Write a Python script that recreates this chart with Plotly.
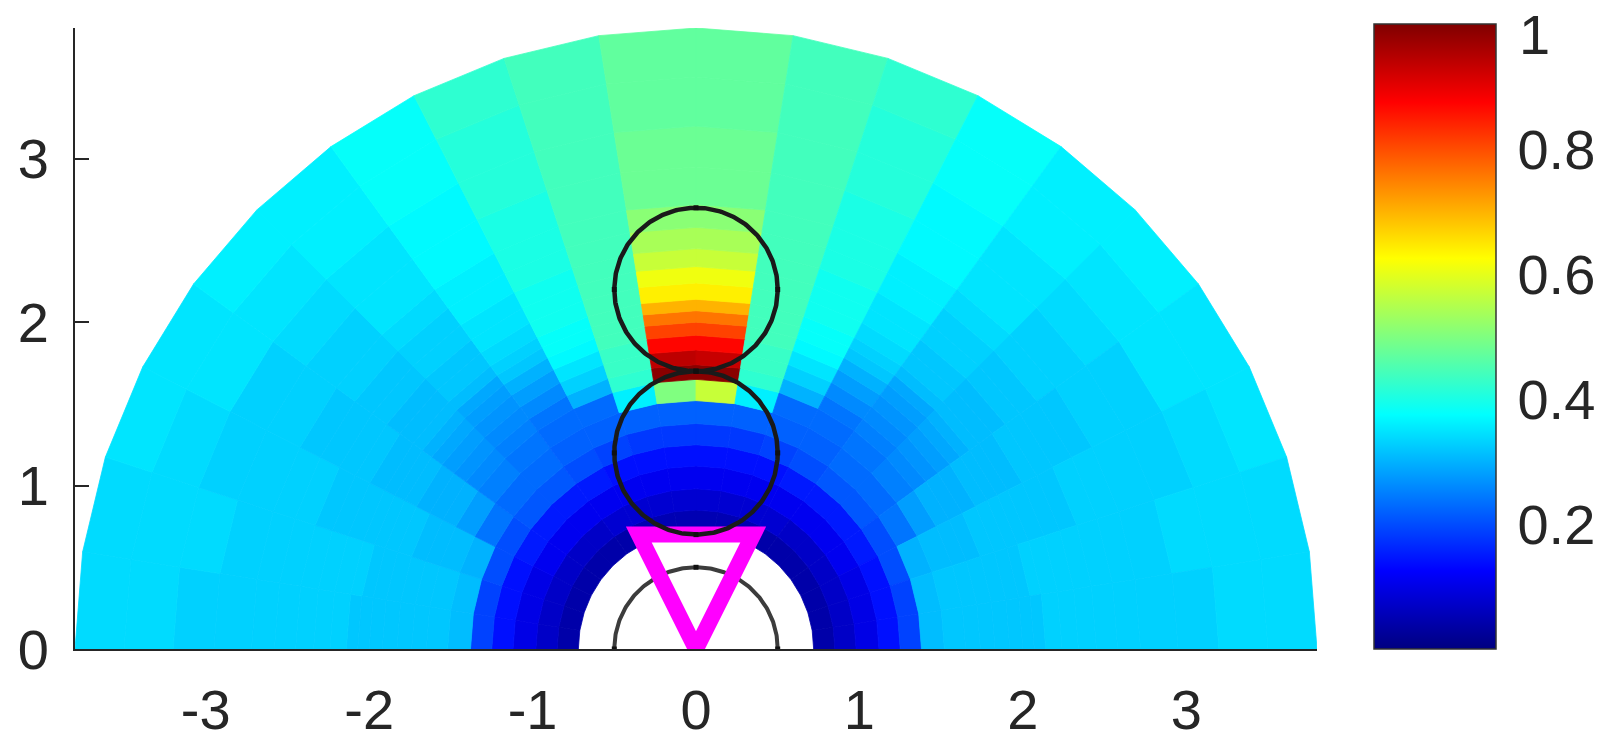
import numpy as np
import plotly.graph_objects as go
from plotly.colors import sample_colorscale

# ---- field on a polar grid ------------------------------------------------
# ring edges (inner hole radius -> outer radius)
r_edges = [0.72, 0.85, 0.98, 1.12, 1.25, 1.38, 1.52, 1.65, 1.74, 1.83, 1.92,
           2.00, 2.07, 2.14, 2.24, 2.34, 2.45, 2.58, 2.72, 2.95, 3.20, 3.50, 3.80]
# angular sectors in degrees, listed from the left (180) to the right (0)
theta_edges_deg = [180, 171, 162, 153, 144, 135, 126, 117, 108, 99, 90,
                   81, 72, 63, 54, 45, 36, 27, 18, 9, 0]

# one row per ring (inner -> outer), one value per sector (left -> right)
ring_00 = [0.04, 0.04, 0.04, 0.04, 0.04, 0.04, 0.04, 0.05, 0.05, 0.05, 0.05, 0.05, 0.05, 0.04, 0.04, 0.04, 0.04, 0.04, 0.04, 0.04]
ring_01 = [0.07, 0.07, 0.07, 0.07, 0.07, 0.07, 0.08, 0.08, 0.08, 0.08, 0.08, 0.08, 0.08, 0.08, 0.07, 0.07, 0.07, 0.07, 0.07, 0.07]
ring_02 = [0.10, 0.10, 0.10, 0.11, 0.11, 0.11, 0.11, 0.11, 0.11, 0.11, 0.11, 0.11, 0.11, 0.11, 0.11, 0.11, 0.11, 0.10, 0.10, 0.10]
ring_03 = [0.14, 0.14, 0.14, 0.15, 0.15, 0.15, 0.15, 0.14, 0.14, 0.14, 0.14, 0.14, 0.14, 0.15, 0.15, 0.15, 0.15, 0.14, 0.14, 0.14]
ring_04 = [0.19, 0.19, 0.20, 0.20, 0.21, 0.21, 0.20, 0.19, 0.18, 0.18, 0.18, 0.18, 0.19, 0.20, 0.21, 0.21, 0.20, 0.20, 0.19, 0.19]
ring_05 = [0.31, 0.31, 0.30, 0.24, 0.23, 0.23, 0.22, 0.22, 0.22, 0.22, 0.22, 0.22, 0.22, 0.22, 0.23, 0.23, 0.24, 0.30, 0.31, 0.31]
ring_06 = [0.32, 0.32, 0.31, 0.28, 0.25, 0.24, 0.23, 0.23, 0.36, 0.50, 0.57, 0.36, 0.23, 0.23, 0.24, 0.25, 0.28, 0.31, 0.32, 0.32]
ring_07 = [0.32, 0.32, 0.31, 0.30, 0.26, 0.25, 0.24, 0.30, 0.42, 0.99, 0.99, 0.42, 0.30, 0.24, 0.25, 0.26, 0.30, 0.31, 0.32, 0.32]
ring_08 = [0.32, 0.32, 0.31, 0.30, 0.27, 0.26, 0.26, 0.33, 0.43, 0.94, 0.93, 0.43, 0.33, 0.26, 0.26, 0.27, 0.30, 0.31, 0.32, 0.32]
ring_09 = [0.32, 0.32, 0.32, 0.30, 0.28, 0.27, 0.28, 0.35, 0.43, 0.87, 0.87, 0.43, 0.35, 0.28, 0.27, 0.28, 0.30, 0.32, 0.32, 0.32]
ring_10 = [0.32, 0.32, 0.32, 0.31, 0.29, 0.28, 0.30, 0.37, 0.44, 0.81, 0.81, 0.44, 0.37, 0.30, 0.28, 0.29, 0.31, 0.32, 0.32, 0.32]
ring_11 = [0.32, 0.32, 0.32, 0.31, 0.30, 0.29, 0.32, 0.38, 0.44, 0.76, 0.76, 0.44, 0.38, 0.32, 0.29, 0.30, 0.31, 0.32, 0.32, 0.32]
ring_12 = [0.32, 0.33, 0.32, 0.31, 0.31, 0.31, 0.33, 0.38, 0.44, 0.70, 0.70, 0.44, 0.38, 0.33, 0.31, 0.31, 0.31, 0.32, 0.33, 0.32]
ring_13 = [0.33, 0.33, 0.32, 0.31, 0.31, 0.32, 0.34, 0.39, 0.44, 0.64, 0.64, 0.44, 0.39, 0.34, 0.32, 0.31, 0.31, 0.32, 0.33, 0.33]
ring_14 = [0.33, 0.33, 0.32, 0.32, 0.31, 0.32, 0.35, 0.39, 0.44, 0.61, 0.61, 0.44, 0.39, 0.35, 0.32, 0.31, 0.32, 0.32, 0.33, 0.33]
ring_15 = [0.33, 0.33, 0.32, 0.32, 0.32, 0.33, 0.35, 0.39, 0.44, 0.57, 0.57, 0.44, 0.39, 0.35, 0.33, 0.32, 0.32, 0.32, 0.33, 0.33]
ring_16 = [0.33, 0.33, 0.33, 0.32, 0.32, 0.33, 0.36, 0.40, 0.44, 0.54, 0.54, 0.44, 0.40, 0.36, 0.33, 0.32, 0.32, 0.33, 0.33, 0.33]
ring_17 = [0.33, 0.33, 0.33, 0.32, 0.33, 0.34, 0.36, 0.40, 0.44, 0.51, 0.51, 0.44, 0.40, 0.36, 0.34, 0.33, 0.32, 0.33, 0.33, 0.33]
ring_18 = [0.33, 0.33, 0.33, 0.33, 0.33, 0.35, 0.37, 0.40, 0.44, 0.48, 0.48, 0.44, 0.40, 0.37, 0.35, 0.33, 0.33, 0.33, 0.33, 0.33]
ring_19 = [0.33, 0.34, 0.33, 0.33, 0.34, 0.35, 0.37, 0.41, 0.44, 0.48, 0.48, 0.44, 0.41, 0.37, 0.35, 0.34, 0.33, 0.33, 0.34, 0.33]
ring_20 = [0.34, 0.34, 0.34, 0.35, 0.35, 0.36, 0.38, 0.41, 0.44, 0.47, 0.47, 0.44, 0.41, 0.38, 0.36, 0.35, 0.35, 0.34, 0.34, 0.34]
ring_21 = [0.34, 0.34, 0.35, 0.35, 0.36, 0.36, 0.38, 0.42, 0.44, 0.47, 0.47, 0.44, 0.42, 0.38, 0.36, 0.36, 0.35, 0.35, 0.34, 0.34]

rings = [ring_00, ring_01, ring_02, ring_03, ring_04, ring_05, ring_06, ring_07,
         ring_08, ring_09, ring_10, ring_11, ring_12, ring_13, ring_14, ring_15,
         ring_16, ring_17, ring_18, ring_19, ring_20, ring_21]

# ---- overlays --------------------------------------------------------------
circle_centers_y = [1.2, 2.2]
circle_radius = 0.5
base_arc_radius = 0.5
triangle_x = [0.0, -0.35, 0.35, 0.0]
triangle_y = [0.0, 0.70, 0.70, 0.0]

cbar_ticks = [0.2, 0.4, 0.6, 0.8]
cbar_labels = ["0.2", "0.4", "0.6", "0.8"]
cbar_top_label = "1"
x_ticks = [-3, -2, -1, 0, 1, 2, 3]
x_labels = ["-3", "-2", "-1", "0", "1", "2", "3"]
y_ticks = [0, 1, 2, 3]

jet = [[0.0, "#000080"], [0.125, "#0000ff"], [0.375, "#00ffff"],
       [0.625, "#ffff00"], [0.875, "#ff0000"], [1.0, "#800000"]]

FONT = "Liberation Sans, Arial, sans-serif"
INK = "#262626"

# plot-area geometry in pixels
W, H = 1609, 741
ML, MR, MT, MB = 75, 292, 28, 92
PW, PH = W - ML - MR, H - MT - MB
CB_LEFT, CB_TOP, CB_W, CB_H = 1374, 24, 122, 625
C_MIN, C_MAX = 0.0, 1.0

fig = go.Figure()

th = np.radians(theta_edges_deg)
for i, row in enumerate(rings):
    r0, r1 = r_edges[i], r_edges[i + 1]
    for k, v in enumerate(row):
        t0, t1 = th[k], th[k + 1]
        xs = [r0 * np.cos(t0), r1 * np.cos(t0), r1 * np.cos(t1), r0 * np.cos(t1), r0 * np.cos(t0)]
        ys = [r0 * np.sin(t0), r1 * np.sin(t0), r1 * np.sin(t1), r0 * np.sin(t1), r0 * np.sin(t0)]
        col = sample_colorscale(jet, [v])[0]
        fig.add_trace(go.Scatter(
            x=xs, y=ys, mode="lines", fill="toself", fillcolor=col,
            line=dict(color=col, width=0.8), hoverinfo="skip", showlegend=False))

# colour scale reference
fig.add_trace(go.Scatter(
    x=[None, None], y=[None, None], mode="markers", showlegend=False, hoverinfo="skip",
    marker=dict(color=[C_MIN, C_MAX], colorscale=jet, cmin=C_MIN, cmax=C_MAX, showscale=True,
                colorbar=dict(
                    thicknessmode="pixels", thickness=CB_W,
                    lenmode="pixels", len=CB_H,
                    x=(CB_LEFT - ML) / PW, xanchor="left", xpad=0,
                    y=(H - MB - CB_TOP) / PH, yanchor="top", ypad=0,
                    outlinewidth=1.5, outlinecolor="#333333",
                    tickvals=cbar_ticks, ticktext=cbar_labels,
                    ticks="outside", ticklen=10, tickcolor="rgba(0,0,0,0)",
                    ticklabeloverflow="allow",
                    tickfont=dict(family=FONT, size=56, color=INK)))))

# half circle around the origin
a = np.linspace(0, np.pi, 181)
fig.add_trace(go.Scatter(
    x=base_arc_radius * np.cos(a), y=base_arc_radius * np.sin(a), mode="lines",
    line=dict(color="#3c3c3c", width=4), hoverinfo="skip", showlegend=False))

# triangle marker
fig.add_trace(go.Scatter(
    x=triangle_x, y=triangle_y, mode="lines",
    line=dict(color="#ff00ff", width=16), hoverinfo="skip", showlegend=False))

# circles
a = np.linspace(0, 2 * np.pi, 361)
for cy in circle_centers_y:
    fig.add_trace(go.Scatter(
        x=circle_radius * np.cos(a), y=cy + circle_radius * np.sin(a), mode="lines",
        line=dict(color="#1a1a1a", width=4.5), hoverinfo="skip", showlegend=False))

# small marks at the cardinal points of each circle
mx, my = [], []
for cy in circle_centers_y:
    mx += [circle_radius, 0.0, -circle_radius, 0.0]
    my += [cy, cy + circle_radius, cy, cy - circle_radius]
mx += [base_arc_radius, 0.0, -base_arc_radius]
my += [0.0, base_arc_radius, 0.0]
fig.add_trace(go.Scatter(
    x=mx, y=my, mode="markers", marker=dict(symbol="square", size=5, color="#111111"),
    hoverinfo="skip", showlegend=False))

# short inward tick marks on the right edge of the colour bar
shapes = []
x_right = (CB_LEFT + CB_W - ML) / PW
x_in = (CB_LEFT + CB_W - 6 - ML) / PW
for v in cbar_ticks:
    py = CB_TOP + CB_H * (1 - (v - C_MIN) / (C_MAX - C_MIN))
    yp = (H - MB - py) / PH
    shapes.append(dict(type="line", xref="paper", yref="paper", x0=x_in, x1=x_right,
                       y0=yp, y1=yp, line=dict(color="#333333", width=1.5)))

# label for the top end of the colour bar, kept just inside the page
annotations = [dict(
    text=cbar_top_label, xref="paper", yref="paper",
    x=(1517 - ML) / PW, y=(H - MB - 34) / PH, xanchor="left", yanchor="middle",
    showarrow=False, font=dict(family=FONT, size=56, color=INK))]

fig.update_layout(
    width=W, height=H,
    margin=dict(l=ML, r=MR, t=MT, b=MB, autoexpand=False),
    paper_bgcolor="white", plot_bgcolor="white",
    font=dict(family=FONT, size=56, color=INK),
    shapes=shapes, annotations=annotations,
)
fig.update_xaxes(
    range=[-3.8, 3.8], tickvals=x_ticks, ticktext=x_labels, ticks="", showgrid=False,
    zeroline=False, showline=True, linecolor=INK, linewidth=2, ticklabelstandoff=11,
    tickfont=dict(family=FONT, size=56, color=INK))
fig.update_yaxes(
    range=[0, 3.8], tickvals=y_ticks, ticks="inside", ticklen=14, tickwidth=2,
    tickcolor=INK, showgrid=False, zeroline=False,
    showline=True, linecolor=INK, linewidth=2, ticklabelstandoff=13,
    tickfont=dict(family=FONT, size=56, color=INK))

fig.write_html("out.html")
